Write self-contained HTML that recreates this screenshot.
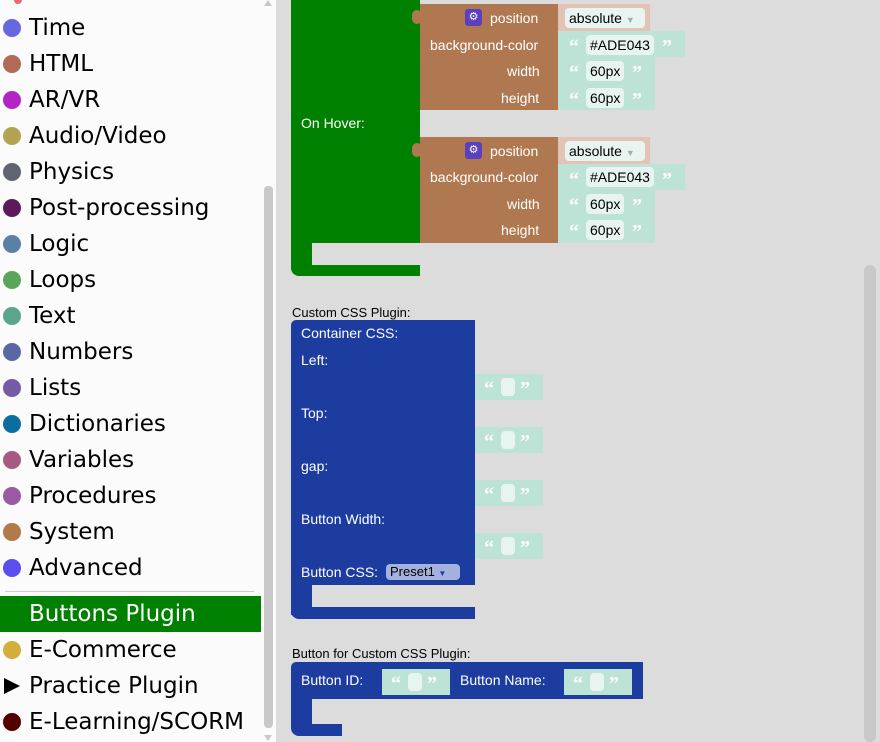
<!DOCTYPE html>
<html><head><meta charset="utf-8"><style>
*{margin:0;padding:0;box-sizing:border-box}
body{width:880px;height:742px;overflow:hidden;background:#dcdcdc;font-family:"Liberation Sans",sans-serif;position:relative}
.a{position:absolute}
#side{left:0;top:0;width:276px;height:742px;background:#fbfbfb}
.it{position:absolute;left:0;height:36px;font-size:23px;font-family:"DejaVu Sans",sans-serif;color:#000;line-height:36px;padding-left:29px;white-space:nowrap}
.dot{position:absolute;left:3px;top:9px;width:18px;height:18px;border-radius:50%}
.w{color:#fff;font-size:14px;position:absolute;white-space:nowrap}
.br{background:#b07850}
.tl{background:#bde3d6}
.pk{background:#e3c3b5}
.fld{position:absolute;background:#e7f4ef;border-radius:4px;font-size:14px;color:#000;padding:0 4px;height:20px;line-height:20px}
.q{position:absolute;color:#fff;font-size:20px;font-weight:bold;font-family:"Liberation Serif",serif;margin-top:4px}
.g{background:#008000}
.bl{background:#1c3ca0}
.lab{position:absolute;font-size:13px;color:#000}
</style></head><body>
<div class="a" id="side">
<div class="a" style="left:14px;top:0;width:8px;height:4px;background:#e66;border-radius:0 0 4px 4px"></div>
<div class="it" style="top:10px"><span class="dot" style="background:#6767e0"></span>Time</div>
<div class="it" style="top:46px"><span class="dot" style="background:#b06a55"></span>HTML</div>
<div class="it" style="top:82px"><span class="dot" style="background:#b324c4"></span>AR/VR</div>
<div class="it" style="top:118px"><span class="dot" style="background:#b3a24f"></span>Audio/Video</div>
<div class="it" style="top:154px"><span class="dot" style="background:#5f6570"></span>Physics</div>
<div class="it" style="top:190px"><span class="dot" style="background:#5c1a5c"></span>Post-processing</div>
<div class="it" style="top:226px"><span class="dot" style="background:#5b80a5"></span>Logic</div>
<div class="it" style="top:262px"><span class="dot" style="background:#5ba55b"></span>Loops</div>
<div class="it" style="top:298px"><span class="dot" style="background:#5ba58c"></span>Text</div>
<div class="it" style="top:334px"><span class="dot" style="background:#5b67a5"></span>Numbers</div>
<div class="it" style="top:370px"><span class="dot" style="background:#745ba5"></span>Lists</div>
<div class="it" style="top:406px"><span class="dot" style="background:#0b6ea0"></span>Dictionaries</div>
<div class="it" style="top:442px"><span class="dot" style="background:#a55b80"></span>Variables</div>
<div class="it" style="top:478px"><span class="dot" style="background:#995ba5"></span>Procedures</div>
<div class="it" style="top:514px"><span class="dot" style="background:#b07a4a"></span>System</div>
<div class="it" style="top:550px"><span class="dot" style="background:#5a4ef0"></span>Advanced</div>
<div class="a" style="left:5px;top:591px;width:249px;height:1px;background:#ccc"></div>
<div class="it" style="top:596px;width:261px;background:#008000;color:#fff">Buttons Plugin</div>
<div class="it" style="top:632px"><span class="dot" style="background:#d4ae3a"></span>E-Commerce</div>
<div class="it" style="top:668px"><span style="position:absolute;left:4px;top:10px;width:0;height:0;border-left:16px solid #000;border-top:8px solid transparent;border-bottom:8px solid transparent"></span>Practice Plugin</div>
<div class="it" style="top:704px"><span class="dot" style="background:#500"></span>E-Learning/SCORM</div>
<div class="a" style="left:264px;top:186px;width:9px;height:542px;background:#c8c8c8;border-radius:4px"></div>
<div class="a" style="left:264px;top:0;width:0;height:0;border-left:4px solid transparent;border-right:4px solid transparent;border-bottom:6px solid #c8c8c8"></div>
<div class="a" style="left:264px;top:735px;width:0;height:0;border-left:4px solid transparent;border-right:4px solid transparent;border-top:6px solid #c8c8c8"></div>
</div>
<div class="a" style="left:864px;top:265px;width:12px;height:477px;background:#c8c8c8;border-radius:6px"></div>

<div class="a g" style="left:291px;top:0;width:129px;height:243px"></div>
<div class="a g" style="left:291px;top:243px;width:21px;height:30px;border-radius:0 0 0 8px"></div>
<div class="a g" style="left:291px;top:265px;width:129px;height:11px;border-radius:0 0 0 8px"></div>
<div class="a" style="left:312px;top:243px;width:108px;height:22px;background:#dcdcdc;border-radius:8px 0 0 8px"></div>
<div class="w" style="left:301px;top:115px">On Hover:</div>

<div class="a br" style="left:420px;top:4px;width:138px;height:106px"></div>
<div class="a br" style="left:412px;top:10px;width:10px;height:14px;border-radius:5px"></div>
<div class="a" style="left:465px;top:9px;width:17px;height:17px;background:#5a3fc0;border-radius:3px;color:#fff;font-size:11px;text-align:center;line-height:17px">⚙</div>
<div class="w" style="left:490px;top:10px">position</div>
<div class="w" style="left:430px;top:37px">background-color</div>
<div class="w" style="left:507px;top:63px">width</div>
<div class="w" style="left:501px;top:90px">height</div>
<div class="a pk" style="left:558px;top:4px;width:92px;height:27px"></div>
<div class="fld" style="left:565px;top:8px;width:80px">absolute <span style="color:#aaa;font-size:9px">▼</span></div>
<div class="a tl" style="left:558px;top:31px;width:127px;height:26px"></div>
<div class="a tl" style="left:558px;top:57px;width:97px;height:53px"></div>
<div class="q" style="left:569px;top:32px">“</div><div class="fld" style="left:586px;top:35px">#ADE043</div><div class="q" style="left:662px;top:32px">”</div>
<div class="q" style="left:569px;top:58px">“</div><div class="fld" style="left:586px;top:61px">60px</div><div class="q" style="left:632px;top:58px">”</div>
<div class="q" style="left:569px;top:85px">“</div><div class="fld" style="left:586px;top:88px">60px</div><div class="q" style="left:632px;top:85px">”</div>

<div class="a br" style="left:420px;top:137px;width:138px;height:106px"></div>
<div class="a br" style="left:412px;top:143px;width:10px;height:14px;border-radius:5px"></div>
<div class="a" style="left:465px;top:142px;width:17px;height:17px;background:#5a3fc0;border-radius:3px;color:#fff;font-size:11px;text-align:center;line-height:17px">⚙</div>
<div class="w" style="left:490px;top:143px">position</div>
<div class="w" style="left:430px;top:169px">background-color</div>
<div class="w" style="left:507px;top:196px">width</div>
<div class="w" style="left:501px;top:222px">height</div>
<div class="a pk" style="left:558px;top:137px;width:92px;height:27px"></div>
<div class="fld" style="left:565px;top:141px;width:80px">absolute <span style="color:#aaa;font-size:9px">▼</span></div>
<div class="a tl" style="left:558px;top:164px;width:127px;height:26px"></div>
<div class="a tl" style="left:558px;top:190px;width:97px;height:53px"></div>
<div class="q" style="left:569px;top:165px">“</div><div class="fld" style="left:586px;top:167px">#ADE043</div><div class="q" style="left:662px;top:165px">”</div>
<div class="q" style="left:569px;top:191px">“</div><div class="fld" style="left:586px;top:194px">60px</div><div class="q" style="left:632px;top:191px">”</div>
<div class="q" style="left:569px;top:217px">“</div><div class="fld" style="left:586px;top:220px">60px</div><div class="q" style="left:632px;top:217px">”</div>

<div class="lab" style="left:292px;top:305px">Custom CSS Plugin:</div>
<div class="a bl" style="left:291px;top:320px;width:184px;height:265px;border-radius:5px 0 0 0"></div>
<div class="a bl" style="left:291px;top:585px;width:21px;height:30px"></div>
<div class="a bl" style="left:291px;top:607px;width:184px;height:12px;border-radius:0 0 0 8px"></div>
<div class="w" style="left:301px;top:325px">Container CSS:</div>
<div class="w" style="left:301px;top:352px">Left:</div>
<div class="w" style="left:301px;top:405px">Top:</div>
<div class="w" style="left:301px;top:458px">gap:</div>
<div class="w" style="left:301px;top:511px">Button Width:</div>
<div class="w" style="left:301px;top:564px">Button CSS:</div>
<div class="fld" style="left:386px;top:564px;background:#a4b1de;width:74px;height:16px;line-height:16px;font-size:13px">Preset1 <span style="font-size:8px;color:#1c3ca0">▼</span></div>

<div class="a tl" style="left:475px;top:374px;width:68px;height:26px"></div>
<div class="a tl" style="left:475px;top:427px;width:68px;height:26px"></div>
<div class="a tl" style="left:475px;top:480px;width:68px;height:26px"></div>
<div class="a tl" style="left:475px;top:533px;width:68px;height:26px"></div>
<div class="q" style="left:484px;top:374px">“</div><div class="fld" style="left:501px;top:378px;width:14px;height:18px"></div><div class="q" style="left:520px;top:374px">”</div>
<div class="q" style="left:484px;top:427px">“</div><div class="fld" style="left:501px;top:431px;width:14px;height:18px"></div><div class="q" style="left:520px;top:427px">”</div>
<div class="q" style="left:484px;top:480px">“</div><div class="fld" style="left:501px;top:484px;width:14px;height:18px"></div><div class="q" style="left:520px;top:480px">”</div>
<div class="q" style="left:484px;top:533px">“</div><div class="fld" style="left:501px;top:537px;width:14px;height:18px"></div><div class="q" style="left:520px;top:533px">”</div>

<div class="lab" style="left:292px;top:646px">Button for Custom CSS Plugin:</div>
<div class="a bl" style="left:291px;top:662px;width:352px;height:37px;border-radius:5px 0 0 0"></div>
<div class="a bl" style="left:291px;top:699px;width:21px;height:35px;border-radius:0 0 0 8px"></div>
<div class="a bl" style="left:291px;top:724px;width:51px;height:12px;border-radius:0 0 0 8px"></div>
<div class="w" style="left:301px;top:672px">Button ID:</div>
<div class="w" style="left:460px;top:672px">Button Name:</div>
<div class="a tl" style="left:382px;top:669px;width:68px;height:26px"></div>
<div class="a tl" style="left:564px;top:669px;width:68px;height:26px"></div>
<div class="q" style="left:391px;top:669px">“</div><div class="fld" style="left:408px;top:673px;width:14px;height:18px"></div><div class="q" style="left:427px;top:669px">”</div>
<div class="q" style="left:573px;top:669px">“</div><div class="fld" style="left:590px;top:673px;width:14px;height:18px"></div><div class="q" style="left:609px;top:669px">”</div>
</body></html>
